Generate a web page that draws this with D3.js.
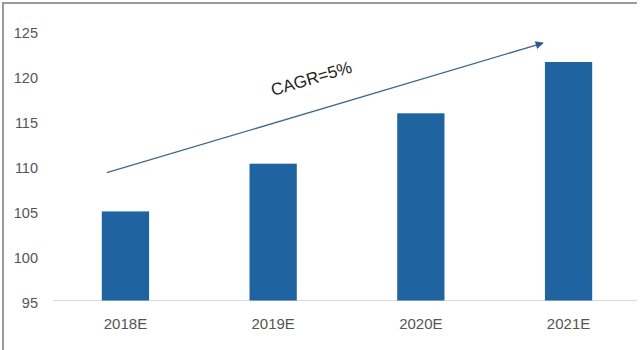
<!DOCTYPE html>
<html><head><meta charset="utf-8">
<script src="https://cdn.jsdelivr.net/npm/d3@7"></script>
<style>body{margin:0;background:#fff}svg{display:block;font-family:"Liberation Sans",Arial,sans-serif}</style>
</head><body>
<svg id="c" width="640" height="350"></svg>
<script>
const categories = ["2018E","2019E","2020E","2021E"];
const values = [104.9, 110.2, 115.8, 121.5];
const yTicks = [95,100,105,110,115,120,125];
const annotation = "CAGR=5%";

const svg = d3.select("#c");
const x = d3.scaleBand().domain(categories).range([51.6, 642.4]).paddingInner(0.68).paddingOuter(0.34);
const y = d3.scaleLinear().domain([95,125]).range([300.5, 30.5]);

// frame
svg.append("path").attr("d","M3,350 V3 H637").attr("fill","none").attr("stroke","#9a9a9a").attr("stroke-width",2);

// baseline
svg.append("line").attr("x1",53).attr("x2",637).attr("y1",y(95)).attr("y2",y(95)).attr("stroke","#d9d9d9").attr("stroke-width",1);

// y labels
const ya = svg.append("g").attr("transform",`translate(38,2)`)
  .call(d3.axisLeft(y).tickValues(yTicks).tickSize(0).tickPadding(0));
ya.select(".domain").remove();
ya.selectAll("text").attr("fill","#555").style("font-size","14.5px").style("font-family","Liberation Sans, Arial, sans-serif");

// x labels
const xa = svg.append("g").attr("transform",`translate(0,${y(95)})`)
  .call(d3.axisBottom(x).tickSize(0).tickPadding(18));
xa.select(".domain").remove();
xa.selectAll("text").attr("fill","#555").style("font-size","15px").style("font-family","Liberation Sans, Arial, sans-serif");

// bars
svg.append("g").selectAll("rect").data(values).join("rect")
  .attr("x",(d,i)=>x(categories[i]))
  .attr("width",x.bandwidth())
  .attr("y",d=>y(d))
  .attr("height",d=>y(95)-y(d))
  .attr("fill","#1f64a0");

// arrow
const defs = svg.append("defs");
defs.append("marker").attr("id","ah").attr("viewBox","0 0 10 10").attr("refX",9).attr("refY",5)
  .attr("markerWidth",11).attr("markerHeight",8).attr("markerUnits","userSpaceOnUse").attr("orient","auto")
  .append("path").attr("d","M0,0 L10,5 L0,10 z").attr("fill","#2f5597");
const x0 = x(categories[0]) + 5, y0 = y(109.2);
const x1 = x(categories[3]) - 2, y1 = y(123.6);
svg.append("line").attr("x1",x0).attr("y1",y0).attr("x2",x1).attr("y2",y1)
  .attr("stroke","#3d6a8a").attr("stroke-width",1.3).attr("marker-end","url(#ah)");
const ang = Math.atan2(y1-y0, x1-x0)*180/Math.PI;

svg.append("text").attr("transform",`translate(313,84) rotate(${ang})`)
  .attr("text-anchor","middle").attr("fill","#222").style("font-size","17px").text(annotation);
</script>
</body></html>
